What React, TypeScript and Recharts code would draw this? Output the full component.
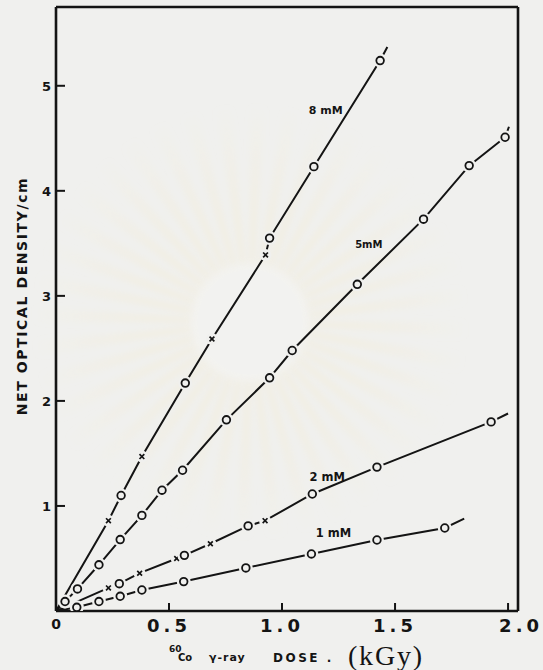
import React from 'react';
import { ComposedChart, Line, XAxis, YAxis, Label, ReferenceDot } from 'recharts';

const INK = '#141414';
const PAPER = '#f0f0ee';

const xTicks = [0, 0.5, 1, 1.5, 2];
const yTicks = [1, 2, 3, 4, 5];
const X_MAX = 2.044;
const Y_MAX = 5.75;

type Mark = 'o' | 'x' | '';

// 8 mM dosimeter: absorbed dose (kGy), net optical density per cm, marker ('' = line end only)
const dose8 = [0, 0.232, 0.288, 0.38, 0.572, 0.69, 0.927, 0.945, 1.141, 1.434, 1.466];
const od8 = [0, 0.86, 1.1, 1.47, 2.17, 2.59, 3.39, 3.55, 4.23, 5.24, 5.37];
const mark8: Mark[] = ['', 'x', 'o', 'x', 'o', 'x', 'x', 'o', 'o', 'o', ''];

// 5 mM
const dose5 = [0, 0.04, 0.095, 0.19, 0.284, 0.38, 0.469, 0.56, 0.754, 0.945, 1.045, 1.333, 1.626, 1.828, 1.987, 2.004];
const od5 = [0, 0.09, 0.21, 0.44, 0.68, 0.91, 1.15, 1.34, 1.82, 2.22, 2.48, 3.11, 3.73, 4.24, 4.51, 4.61];
const mark5: Mark[] = ['', 'o', 'o', 'o', 'o', 'o', 'o', 'o', 'o', 'o', 'o', 'o', 'o', 'o', 'o', ''];

// 2 mM
const dose2 = [0, 0.232, 0.28, 0.37, 0.534, 0.568, 0.683, 0.85, 0.925, 1.134, 1.42, 1.925, 2.0];
const od2 = [0, 0.22, 0.26, 0.36, 0.5, 0.53, 0.64, 0.81, 0.86, 1.114, 1.37, 1.8, 1.88];
const mark2: Mark[] = ['', 'x', 'o', 'x', 'x', 'o', 'x', 'o', 'x', 'o', 'o', 'o', ''];

// 1 mM
const dose1 = [0, 0.092, 0.19, 0.284, 0.38, 0.565, 0.84, 1.13, 1.42, 1.72, 1.806];
const od1 = [0, 0.035, 0.09, 0.14, 0.2, 0.28, 0.41, 0.543, 0.676, 0.79, 0.88];
const mark1: Mark[] = ['', 'o', 'o', 'o', 'o', 'o', 'o', 'o', 'o', 'o', ''];

const toRows = (dose: number[], od: number[], mark: Mark[]) =>
  dose.map((d, i) => ({ dose: d, od: od[i], mark: mark[i] }));

const series = [
  { id: 's8', rows: toRows(dose8, od8, mark8) },
  { id: 's5', rows: toRows(dose5, od5, mark5) },
  { id: 's2', rows: toRows(dose2, od2, mark2) },
  { id: 's1', rows: toRows(dose1, od1, mark1) },
];

// concentration captions, placed in data space
const captions = [
  { text: '8 mM', dose: 1.193, od: 4.77, size: 11 },
  { text: '5mM', dose: 1.384, od: 3.49, size: 10 },
  { text: '2 mM', dose: 1.2, od: 1.276, size: 11.5 },
  { text: '1 mM', dose: 1.228, od: 0.743, size: 11.5 },
];

const fmtDose = (v: number) => (v === 0 ? '0' : v.toFixed(1));

function MarkerDot(props: any) {
  const { cx, cy, payload, index } = props;
  if (!payload || !payload.mark || cx == null || cy == null) return <g key={`n-${index}`} />;
  if (payload.mark === 'x') {
    const s = 2.4;
    return (
      <g key={`x-${index}`}>
        <circle cx={cx} cy={cy} r={6} fill={PAPER} />
        <path
          d={`M${cx - s},${cy - s}L${cx + s},${cy + s}M${cx - s},${cy + s}L${cx + s},${cy - s}`}
          stroke={INK}
          strokeWidth={1.7}
        />
      </g>
    );
  }
  return (
    <g key={`o-${index}`}>
      <circle cx={cx} cy={cy} r={7} fill={PAPER} />
      <circle cx={cx} cy={cy} r={3.8} fill={PAPER} stroke={INK} strokeWidth={1.8} />
    </g>
  );
}

function DoseTick(props: any) {
  const { x, y, payload } = props;
  const v = payload.value as number;
  if (v === 0) {
    return (
      <text x={x} y={y + 11} textAnchor="middle" fill={INK} fontSize={14} fontWeight={700} fontFamily="DejaVu Sans">
        0
      </text>
    );
  }
  return (
    <text
      x={x + (v === 2 ? 13 : 0)}
      y={y + 14}
      textAnchor="middle"
      fill={INK}
      fontSize={18}
      fontWeight={700}
      fontFamily="DejaVu Sans"
      style={{ letterSpacing: 4 }}
    >
      {fmtDose(v)}
    </text>
  );
}

function OdTick(props: any) {
  const { x, y, payload } = props;
  return (
    <text x={x} y={y + 5} textAnchor="end" fill={INK} fontSize={13} fontWeight={700} fontFamily="DejaVu Sans">
      {payload.value}
    </text>
  );
}

function DoseTitle(props: any) {
  const { viewBox } = props;
  const x0 = viewBox.x;
  const y0 = viewBox.y;
  return (
    <g fill={INK}>
      <text x={x0 + 113} y={y0 + 41} fontSize={9} fontWeight={700} fontFamily="DejaVu Sans">60</text>
      <text x={x0 + 122} y={y0 + 50} fontSize={10} fontWeight={700} fontFamily="DejaVu Sans">Co</text>
      <text x={x0 + 153} y={y0 + 50} fontSize={11} fontWeight={700} fontFamily="DejaVu Sans" style={{ letterSpacing: 1 }}>
        γ-ray
      </text>
      <text x={x0 + 217} y={y0 + 51} fontSize={12} fontWeight={700} fontFamily="DejaVu Sans" style={{ letterSpacing: 2.5 }}>
        DOSE .
      </text>
      <text x={x0 + 292} y={y0 + 54} fontSize={28} fontFamily="Liberation Serif" style={{ letterSpacing: 1.8 }}>
        (kGy)
      </text>
    </g>
  );
}

function OdTitle(props: any) {
  const { viewBox } = props;
  const cx = viewBox.x + 22;
  const cy = viewBox.y + 289;
  return (
    <text
      transform={`translate(${cx},${cy}) rotate(-90)`}
      textAnchor="middle"
      dominantBaseline="central"
      fill={INK}
      fontSize={14}
      fontWeight={700}
      fontFamily="DejaVu Sans"
      style={{ letterSpacing: 1.6 }}
    >
      NET OPTICAL DENSITY/cm
    </text>
  );
}

// faint sunburst crest printed behind the plot
function Crest() {
  const cx = 250;
  const cy = 322;
  const n = 40;
  const rays = Array.from({ length: n }, (_, i) => {
    const a0 = (i / n) * Math.PI * 2;
    const a1 = a0 + 0.07;
    const r0 = 55;
    const r1 = 215;
    const p = [
      [cx + r0 * Math.cos(a0), cy + r0 * Math.sin(a0)],
      [cx + r1 * Math.cos(a0), cy + r1 * Math.sin(a0)],
      [cx + r1 * Math.cos(a1), cy + r1 * Math.sin(a1)],
      [cx + r0 * Math.cos(a1), cy + r0 * Math.sin(a1)],
    ];
    return <polygon key={i} points={p.map((q) => q.join(',')).join(' ')} />;
  });
  return (
    <svg width={543} height={670} style={{ position: 'absolute', left: 0, top: 0 }}>
      <defs>
        <radialGradient id="crestFade" cx={cx} cy={cy} r={220} gradientUnits="userSpaceOnUse">
          <stop offset="0.25" stopColor="#f3ecd2" stopOpacity={0.55} />
          <stop offset="1" stopColor="#f3ecd2" stopOpacity={0} />
        </radialGradient>
        <filter id="crestSoft">
          <feGaussianBlur stdDeviation="3" />
        </filter>
      </defs>
      <g fill="url(#crestFade)" filter="url(#crestSoft)">{rays}</g>
      <circle cx={cx} cy={cy} r={60} fill="#f4f4f2" opacity={0.6} filter="url(#crestSoft)" />
    </svg>
  );
}

export default function App() {
  return (
    <div style={{ position: 'absolute', left: 0, top: 0, width: 543, height: 670, background: PAPER }}>
      <Crest />
      <div style={{ position: 'absolute', left: 0, top: 0 }}>
        <ComposedChart width={543} height={670} margin={{ top: 7, right: 25, bottom: 58, left: 0 }}>
          <XAxis
            type="number"
            dataKey="dose"
            domain={[0, X_MAX]}
            ticks={xTicks}
            interval={0}
            allowDataOverflow
            height={1}
            tickSize={-8}
            tickMargin={15}
            tick={<DoseTick />}
            axisLine={{ stroke: INK, strokeWidth: 2.6 }}
            tickLine={{ stroke: INK, strokeWidth: 2 }}
          >
            <Label content={<DoseTitle />} />
          </XAxis>
          <XAxis
            xAxisId="top"
            orientation="top"
            mirror
            type="number"
            domain={[0, X_MAX]}
            ticks={[0.5, 1, 1.5, 2]}
            interval={0}
            allowDataOverflow
            height={1}
            tickSize={7}
            tick={false}
            axisLine={{ stroke: INK, strokeWidth: 2.6 }}
            tickLine={{ stroke: INK, strokeWidth: 2 }}
          />
          <YAxis
            type="number"
            domain={[0, Y_MAX]}
            ticks={yTicks}
            interval={0}
            allowDataOverflow
            width={56}
            tickSize={-9}
            tickMargin={14}
            tick={<OdTick />}
            axisLine={{ stroke: INK, strokeWidth: 2.6 }}
            tickLine={{ stroke: INK, strokeWidth: 2 }}
          >
            <Label content={<OdTitle />} />
          </YAxis>
          <YAxis
            yAxisId="right"
            orientation="right"
            mirror
            type="number"
            domain={[0, Y_MAX]}
            ticks={yTicks}
            interval={0}
            allowDataOverflow
            width={1}
            tickSize={9}
            tick={false}
            axisLine={{ stroke: INK, strokeWidth: 2.6 }}
            tickLine={{ stroke: INK, strokeWidth: 2 }}
          />
          {series.map((s) => (
            <Line
              key={s.id}
              data={s.rows}
              dataKey="od"
              type="linear"
              stroke={INK}
              strokeWidth={2}
              dot={MarkerDot}
              activeDot={false}
              isAnimationActive={false}
            />
          ))}
          {captions.map((c) => (
            <ReferenceDot
              key={c.text}
              x={c.dose}
              y={c.od}
              r={0}
              fill="none"
              stroke="none"
              ifOverflow="visible"
              label={{
                value: c.text,
                position: 'center',
                fill: INK,
                fontSize: c.size,
                fontWeight: 700,
                fontFamily: 'DejaVu Sans',
              }}
            />
          ))}
        </ComposedChart>
      </div>
    </div>
  );
}
